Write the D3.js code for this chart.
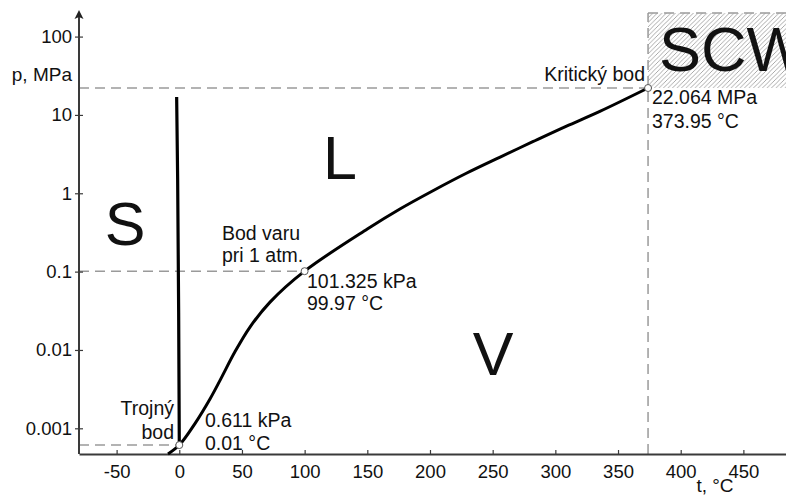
<!DOCTYPE html>
<html>
<head>
<meta charset="utf-8">
<script src="https://cdn.jsdelivr.net/npm/d3@7"></script>
<style>
  body { margin: 0; background: #fff; }
  svg { display: block; font-family: "Liberation Sans", Arial, sans-serif; }
</style>
</head>
<body>
<div id="graf"></div>
<script>
// Krivka vyparovania (t v °C, p v MPa), zacina kusom sublimacnej krivky pod trojnym bodom
const vyparT = [-9, 0.01, 12.5, 24.5, 32.5, 44.4, 56.4, 72.4, 99.97, 150, 176, 202, 229, 256, 282, 308.5, 335.5, 373.95];
const vyparP = [0.00047, 0.000611, 0.00115, 0.00237, 0.00409, 0.00946, 0.0196, 0.0408, 0.101325, 0.35, 0.63, 1.07, 1.8, 2.9, 4.55, 7.15, 11.1, 22.064];

// Krivka topenia
const topT = [0.01, -0.5, -1.3, -2.1];
const topP = [0.000611, 0.03, 1.5, 16.9];

// Vyznacne body
const bodyT = [0.01, 99.97, 373.95];
const bodyP = [0.000611, 0.101325, 22.064];

const xTicks = [-50, 0, 50, 100, 150, 200, 250, 300, 350, 400, 450];
const yTicks = [0.001, 0.01, 0.1, 1, 10, 100];
const yTickLabels = ["0.001", "0.01", "0.1", "1", "10", "100"];

const width = 786, height = 497;

const svg = d3.select("#graf").append("svg")
    .attr("width", width)
    .attr("height", height);

const x = d3.scaleLinear().domain([-80, 484]).range([79, 786]);
const y = d3.scaleLog().domain([0.00047, 200]).range([454, 13]);

const tc = bodyT[2], pc = bodyP[2];

// srafovanie pre SCW
const defs = svg.append("defs");
defs.append("pattern")
    .attr("id", "srafy")
    .attr("patternUnits", "userSpaceOnUse")
    .attr("width", 4.5).attr("height", 4.5)
    .append("path")
    .attr("d", "M0,4.5 L4.5,0 M-1,1 L1,-1 M3.5,5.5 L5.5,3.5")
    .style("stroke", "#a0a0a0")
    .style("stroke-width", 0.9);

svg.append("rect")
    .attr("x", x(tc))
    .attr("y", y.range()[1])
    .attr("width", x.range()[1] - x(tc))
    .attr("height", y(pc) - y.range()[1])
    .style("fill", "url(#srafy)");

// Prerusovane ciary
const prerus = svg.append("g")
    .style("stroke", "#9a9a9a")
    .style("stroke-width", 1.5)
    .style("stroke-dasharray", "10,6")
    .style("fill", "none");

prerus.append("line")
    .attr("x1", x.range()[0]).attr("x2", x(bodyT[0]))
    .attr("y1", y(bodyP[0])).attr("y2", y(bodyP[0]));
prerus.append("line")
    .attr("x1", x.range()[0]).attr("x2", x(bodyT[1]))
    .attr("y1", y(bodyP[1])).attr("y2", y(bodyP[1]));
prerus.append("line")
    .attr("x1", x.range()[0]).attr("x2", x(tc))
    .attr("y1", y(pc)).attr("y2", y(pc));
prerus.append("line")
    .attr("x1", x(tc)).attr("x2", x(tc))
    .attr("y1", y.range()[0]).attr("y2", y.range()[1]);
prerus.append("line")
    .attr("x1", x(tc)).attr("x2", x.range()[1])
    .attr("y1", y.range()[1]).attr("y2", y.range()[1]);

// Osi
const osX = svg.append("g")
    .attr("transform", `translate(0,${y.range()[0]})`)
    .call(d3.axisBottom(x).tickValues(xTicks).tickFormat(d => String(d))
        .tickSizeInner(-4).tickSizeOuter(0));
osX.selectAll("text").attr("y", 24).attr("dy", 0);

const osY = svg.append("g")
    .attr("transform", `translate(${x.range()[0]},0)`)
    .call(d3.axisLeft(y).tickValues(yTicks).tickFormat((d, i) => yTickLabels[i])
        .tickSizeInner(4).tickSizeOuter(0).tickPadding(3));
osY.selectAll(".tick line").attr("x1", 4);
osY.select(".domain").remove();
osY.append("line")
    .attr("x1", 0).attr("x2", 0)
    .attr("y1", y.range()[0]).attr("y2", 16)
    .style("stroke", "#3a3a3a")
    .style("stroke-width", 2);
// sipka na konci osi p
osY.append("path")
    .attr("d", "M0,10 L4.5,19 L0,17 L-4.5,19 Z")
    .style("fill", "#222");

svg.selectAll(".domain").style("stroke", "#3a3a3a").style("stroke-width", 2);
svg.selectAll(".tick line").style("stroke", "#3a3a3a").style("stroke-width", 1.2);
svg.selectAll(".tick text")
    .style("font-size", "18.5px")
    .style("font-family", "'Liberation Sans', Arial, sans-serif")
    .style("fill", "#111");

// Krivky
const ciara = d3.line()
    .x(d => x(d[0]))
    .y(d => y(d[1]))
    .curve(d3.curveCatmullRom.alpha(0.5));

svg.append("path")
    .datum(vyparT.map((t, i) => [t, vyparP[i]]))
    .attr("d", ciara)
    .style("fill", "none")
    .style("stroke", "#000")
    .style("stroke-width", 3);

svg.append("path")
    .datum(topT.map((t, i) => [t, topP[i]]))
    .attr("d", d3.line().x(d => x(d[0])).y(d => y(d[1])))
    .style("fill", "none")
    .style("stroke", "#000")
    .style("stroke-width", 3.2);

// Body
svg.selectAll(".bod")
    .data(bodyT.map((t, i) => [t, bodyP[i]]))
    .enter()
    .append("circle")
    .attr("class", "bod")
    .attr("cx", d => x(d[0]))
    .attr("cy", d => y(d[1]))
    .attr("r", 3.5)
    .style("fill", "#fff")
    .style("stroke", "#555")
    .style("stroke-width", 1);

// Popisy
function popis(tx, px, py, anchor, size) {
    svg.append("text")
        .attr("x", px).attr("y", py)
        .attr("text-anchor", anchor)
        .style("font-size", size + "px")
        .style("fill", "#111")
        .text(tx);
}

popis("p, MPa", 72, 81, "end", 19);
popis("t, °C", 715, 492, "middle", 19);

popis("Trojný", 174, 415, "end", 19.5);
popis("bod", 174, 439, "end", 19.5);
popis("0.611 kPa", 205, 427, "start", 19.5);
popis("0.01 °C", 205, 450, "start", 19.5);

popis("Bod varu", 222, 240, "start", 19.5);
popis("pri 1 atm.", 222, 262, "start", 19.5);
popis("101.325 kPa", 307, 288, "start", 19.5);
popis("99.97 °C", 307, 310, "start", 19.5);

popis("Kritický bod", 645, 81, "end", 19.5);
popis("22.064 MPa", 652, 104, "start", 19.5);
popis("373.95 °C", 652, 128, "start", 19.5);

popis("S", 125, 245, "middle", 61);
popis("L", 340, 179, "middle", 61);
popis("V", 493, 375, "middle", 61);
popis("SCW", 659, 71, "start", 63);
</script>
</body>
</html>
